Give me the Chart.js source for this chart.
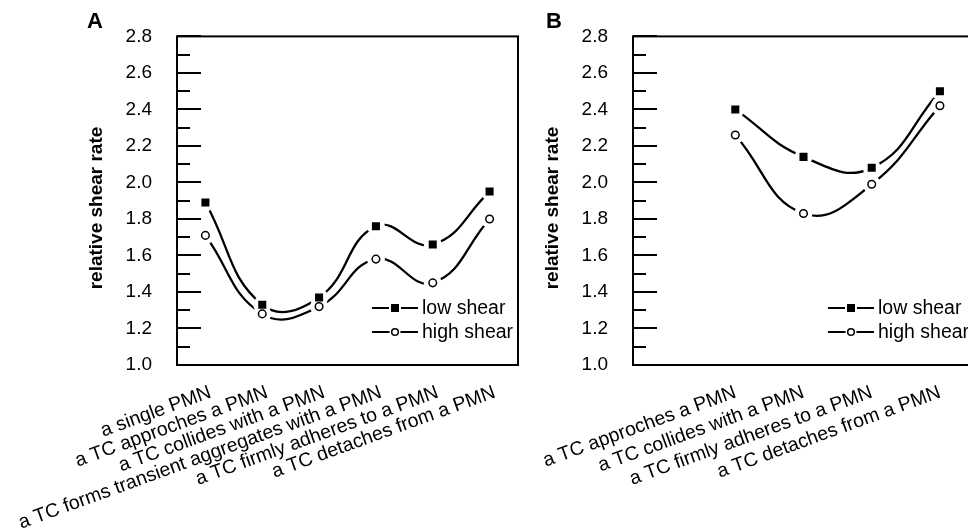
<!DOCTYPE html>
<html>
<head>
<meta charset="utf-8">
<script src="https://cdn.jsdelivr.net/npm/chart.js@4/dist/chart.umd.min.js"></script>
<style>
html, body { margin: 0; padding: 0; background: #fff; overflow: hidden; width: 968px; height: 530px; }
#wrapA { position: absolute; left: 0; top: 0; width: 540px; height: 530px; }
#wrapB { position: absolute; left: 540px; top: 0; width: 480px; height: 530px; }
</style>
</head>
<body>
<div id="wrapA"><canvas id="chartA"></canvas></div>
<div id="wrapB"><canvas id="chartB"></canvas></div>
<script>
// data
const labelsA = ['a single PMN', 'a TC approches a PMN', 'a TC collides with a PMN',
  'a TC forms transient aggregates with a PMN', 'a TC firmly adheres to a PMN', 'a TC detaches from a PMN'];
const lowA = [1.89, 1.33, 1.37, 1.76, 1.66, 1.95];
const highA = [1.71, 1.28, 1.32, 1.58, 1.45, 1.80];

const labelsB = ['', 'a TC approches a PMN', 'a TC collides with a PMN',
  'a TC firmly adheres to a PMN', 'a TC detaches from a PMN'];
const lowB = [null, 2.40, 2.14, 2.08, 2.50];
const highB = [null, 2.26, 1.83, 1.99, 2.42];

const seriesNames = ['low shear', 'high shear'];
const yMajor = [1.0, 1.2, 1.4, 1.6, 1.8, 2.0, 2.2, 2.4, 2.6, 2.8];
const yMinor = [1.1, 1.3, 1.5, 1.7, 1.9, 2.1, 2.3, 2.5, 2.7];
const yTitle = 'relative shear rate';

const FONT = '"Liberation Sans", Arial, sans-serif';

// white gap round each marker so the curves stop short of it.
// done once, before the first marker dataset is drawn, for all markers
const gapPlugin = {
  id: 'gap',
  beforeDatasetDraw(chart, args) {
    if (!chart.data.datasets[args.index].firstMarker) return;
    const ctx = chart.ctx;
    ctx.save();
    ctx.fillStyle = '#fff';
    chart.data.datasets.forEach((ds, i) => {
      if (!ds.isMarker) return;
      chart.getDatasetMeta(i).data.forEach(pt => {
        if (pt.skip || isNaN(pt.y)) return;
        ctx.beginPath();
        ctx.arc(pt.x, pt.y, 9, 0, Math.PI * 2);
        ctx.fill();
      });
    });
    ctx.restore();
  }
};

// ticks inside the plot, frame, y title, panel letter and legend
const decorPlugin = {
  id: 'decor',
  afterDraw(chart) {
    const o = chart.options.plugins.decor;
    const ctx = chart.ctx;
    const a = chart.chartArea;
    const y = chart.scales.y;
    ctx.save();
    ctx.strokeStyle = '#000';
    ctx.lineWidth = 2;
    ctx.beginPath();
    yMajor.forEach(v => { const p = Math.round(y.getPixelForValue(v)); ctx.moveTo(a.left, p); ctx.lineTo(a.left + 24, p); });
    yMinor.forEach(v => { const p = Math.round(y.getPixelForValue(v)); ctx.moveTo(a.left, p); ctx.lineTo(a.left + 13, p); });
    ctx.stroke();
    ctx.strokeRect(a.left, a.top, a.right - a.left, a.bottom - a.top);

    // y title
    ctx.fillStyle = '#000';
    ctx.font = 'bold 19px ' + FONT;
    ctx.textAlign = 'center';
    ctx.textBaseline = 'middle';
    ctx.translate(o.titleX, o.titleY);
    ctx.rotate(-Math.PI / 2);
    ctx.fillText(yTitle, 0, 0);
    ctx.setTransform(1, 0, 0, 1, 0, 0);

    // panel letter
    ctx.font = 'bold 22px ' + FONT;
    ctx.textAlign = 'left';
    ctx.textBaseline = 'alphabetic';
    ctx.fillText(o.letter, o.letterX, 28);

    // legend
    const x0 = a.right - 146;
    const rows = [308, 332];
    ctx.font = '19.5px ' + FONT;
    ctx.textBaseline = 'middle';
    rows.forEach((ry, i) => {
      ctx.beginPath();
      ctx.lineWidth = 2;
      ctx.moveTo(x0, ry); ctx.lineTo(x0 + 46, ry);
      ctx.stroke();
      const cx = x0 + 23;
      if (i === 0) {
        ctx.fillStyle = '#fff';
        ctx.fillRect(cx - 6, ry - 5, 12, 10);
        ctx.fillStyle = '#000';
        ctx.fillRect(cx - 4, ry - 4, 8, 8);
      } else {
        ctx.fillStyle = '#fff';
        ctx.beginPath(); ctx.arc(cx, ry, 5.5, 0, Math.PI * 2); ctx.fill();
        ctx.beginPath(); ctx.lineWidth = 1.5; ctx.arc(cx, ry, 3.3, 0, Math.PI * 2); ctx.stroke();
      }
      ctx.fillStyle = '#000';
      ctx.fillText(seriesNames[i], x0 + 50, ry + 1);
    });
    ctx.restore();
  }
};

function makeChart(id, labels, low, high, cfg) {
  const lineBase = { borderColor: '#000', borderWidth: 2.3, tension: 0.45, fill: false, pointRadius: 0 };
  // first datasets are drawn last (on top): markers first, curves after
  const datasets = [
    { label: seriesNames[0], data: low, isMarker: true, showLine: false, pointStyle: 'rect',
      pointRadius: 5.7, pointHoverRadius: 5.7, pointBackgroundColor: '#000', pointBorderColor: '#000', pointBorderWidth: 0 },
    { label: seriesNames[1], data: high, isMarker: true, firstMarker: true, showLine: false, pointStyle: 'circle',
      pointRadius: 3.8, pointHoverRadius: 3.8, pointBackgroundColor: '#fff', pointBorderColor: '#000', pointBorderWidth: 1.5 },
    Object.assign({ label: seriesNames[0] + ' curve', data: low }, lineBase),
    Object.assign({ label: seriesNames[1] + ' curve', data: high }, lineBase)
  ];
  return new Chart(document.getElementById(id), {
    type: 'line',
    data: { labels: labels, datasets: datasets },
    options: {
      responsive: true,
      maintainAspectRatio: false,
      animation: false,
      events: [],
      layout: { padding: { left: 0, top: 24, right: cfg.padRight, bottom: 0 } },
      plugins: {
        legend: { display: false },
        tooltip: { enabled: false },
        decor: cfg.decor
      },
      scales: {
        x: {
          type: 'category',
          offset: true,
          grid: { display: false, drawTicks: false },
          border: { display: false },
          ticks: {
            autoSkip: false, minRotation: 20, maxRotation: 20, padding: 16, labelOffset: cfg.labelOffset,
            color: '#000', font: { family: FONT, size: 19.5 }
          },
          afterFit(s) { s.height = 165; s.paddingLeft = 0; s.paddingRight = 0; }
        },
        y: {
          min: 1.0, max: 2.8,
          grid: { display: false, drawTicks: false },
          border: { display: false },
          afterBuildTicks(s) { s.ticks = yMajor.map(v => ({ value: v })); },
          ticks: {
            padding: 25, color: '#000', font: { family: FONT, size: 19 },
            callback: v => Number(v).toFixed(1)
          },
          afterFit(s) { s.width = cfg.yWidth; }
        }
      }
    },
    plugins: [gapPlugin, decorPlugin]
  });
}

makeChart('chartA', labelsA, lowA, highA, {
  padRight: 22, yWidth: 177, labelOffset: 5,
  decor: { letter: 'A', letterX: 87, titleX: 97, titleY: 208 }
});
makeChart('chartB', labelsB, lowB, highB, {
  padRight: 46, yWidth: 93, labelOffset: 0,
  decor: { letter: 'B', letterX: 6, titleX: 13, titleY: 208 }
});
</script>
</body>
</html>
